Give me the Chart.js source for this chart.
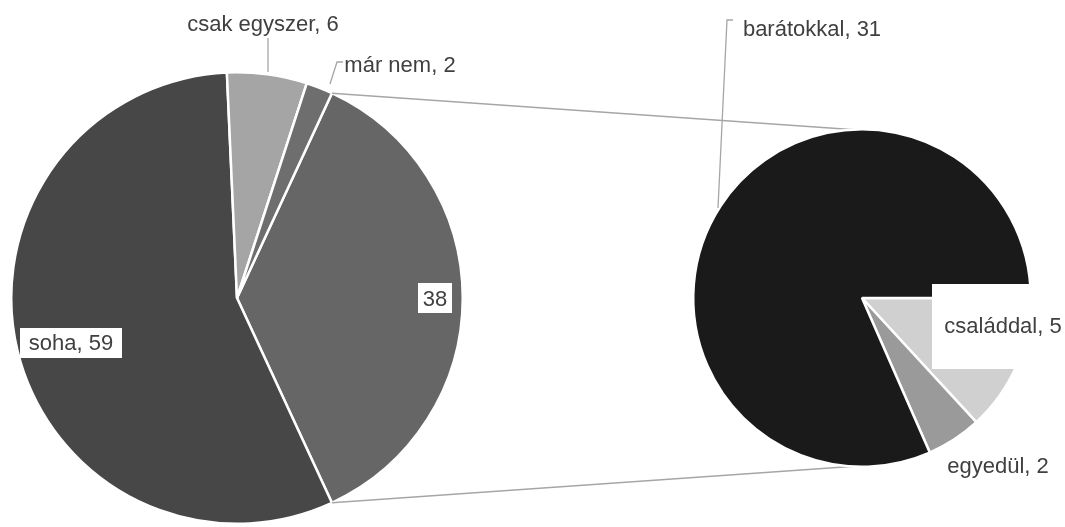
<!DOCTYPE html>
<html>
<head>
<meta charset="utf-8">
<script src="https://cdn.jsdelivr.net/npm/chart.js@4/dist/chart.umd.min.js"></script>
<style>
  html, body { margin: 0; padding: 0; background: #fff; }
  #wrap { position: relative; width: 1065px; height: 527px; }
  #wrap canvas { position: absolute; left: 0; top: 0; }
</style>
</head>
<body>
<div id="wrap">
  <canvas id="mainPie" width="1065" height="527"></canvas>
  <canvas id="subPie" width="1065" height="527"></canvas>
</div>
<script>
// main pie: the "38" slice is the sum of the breakdown pie
const mainLabels = ['', 'soha', 'csak egyszer', 'már nem'];
const mainValues = [38, 59, 6, 2];
const mainColors = ['#666666', '#474747', '#a5a5a5', '#6e6e6e'];

// breakdown pie
const subLabels = ['családdal', 'egyedül', 'barátokkal'];
const subValues = [5, 2, 31];
const subColors = ['#d0d0d0', '#9a9a9a', '#1a1a1a'];

const FONT = '22px "Liberation Sans", Arial, sans-serif';
const TEXT = '#404040';
const LEADER = '#a6a6a6';

// label placement relative to each pie's centre
const mainLabelPos = [
  { dx: 198, dy: 8, box: { dx: 181, dy: -15, w: 34, h: 30 } },
  { dx: -166, dy: 52, box: { dx: -217, dy: 30, w: 102, h: 30 } },
  { dx: 26, dy: -267, leader: [[31, -260], [31, -226]] },
  { dx: 163, dy: -226, leader: [[106, -236], [100, -236], [93, -214]] }
];
const subLabelPos = [
  { dx: 141, dy: 35, box: { dx: 70, dy: -14, w: 140, h: 85 } },
  { dx: 136, dy: 175 },
  { dx: -50, dy: -262, leader: [[-129, -278], [-135, -278], [-144, -90]] }
];

function labelText(names, values, i) {
  return names[i] ? names[i] + ', ' + values[i] : String(values[i]);
}

function labelPlugin(names, values, layout) {
  return {
    id: 'sliceLabels',
    afterDatasetsDraw(chart) {
      const arcs = chart.getDatasetMeta(0).data;
      const cx = arcs[0].x, cy = arcs[0].y;
      const ctx = chart.ctx;
      ctx.save();
      ctx.font = FONT;
      ctx.textAlign = 'center';
      ctx.textBaseline = 'alphabetic';
      layout.forEach((p, i) => {
        if (p.leader) {
          ctx.strokeStyle = LEADER;
          ctx.lineWidth = 1.3;
          ctx.beginPath();
          p.leader.forEach(([x, y], k) => {
            if (k === 0) ctx.moveTo(cx + x, cy + y);
            else ctx.lineTo(cx + x, cy + y);
          });
          ctx.stroke();
        }
        if (p.box) {
          ctx.fillStyle = '#ffffff';
          ctx.fillRect(cx + p.box.dx, cy + p.box.dy, p.box.w, p.box.h);
        }
        ctx.fillStyle = TEXT;
        ctx.fillText(labelText(names, values, i), cx + p.dx, cy + p.dy);
      });
      ctx.restore();
    }
  };
}

const baseOptions = {
  responsive: false,
  animation: false,
  devicePixelRatio: 1,
  plugins: { legend: { display: false }, tooltip: { enabled: false } }
};

const otherShare = mainValues[0] / mainValues.reduce((a, b) => a + b, 0) * 360;

const mainChart = new Chart(document.getElementById('mainPie'), {
  type: 'pie',
  data: {
    labels: mainLabels,
    datasets: [{
      data: mainValues,
      backgroundColor: mainColors,
      borderColor: '#ffffff',
      borderWidth: 2.5
    }]
  },
  options: {
    ...baseOptions,
    rotation: 90 - otherShare / 2,
    layout: { padding: { left: 10, top: 71, right: 601, bottom: 2 } }
  },
  plugins: [labelPlugin(mainLabels, mainValues, mainLabelPos)]
});

// lines joining the "38" slice to the breakdown pie
const connectorPlugin = {
  id: 'connectors',
  beforeDatasetsDraw(chart) {
    const src = mainChart.getDatasetMeta(0).data[0];
    const dst = chart.getDatasetMeta(0).data[0];
    const a0 = src.startAngle, a1 = src.endAngle, r = src.outerRadius;
    const ctx = chart.ctx;
    ctx.save();
    ctx.strokeStyle = LEADER;
    ctx.lineWidth = 1.5;
    ctx.beginPath();
    ctx.moveTo(src.x + r * Math.cos(a0), src.y + r * Math.sin(a0));
    ctx.lineTo(dst.x, dst.y - dst.outerRadius + 1);
    ctx.moveTo(src.x + r * Math.cos(a1), src.y + r * Math.sin(a1));
    ctx.lineTo(dst.x, dst.y + dst.outerRadius - 1);
    ctx.stroke();
    ctx.restore();
  }
};

new Chart(document.getElementById('subPie'), {
  type: 'pie',
  data: {
    labels: subLabels,
    datasets: [{
      data: subValues,
      backgroundColor: subColors,
      borderColor: '#ffffff',
      borderWidth: 2.5
    }]
  },
  options: {
    ...baseOptions,
    rotation: 90,
    layout: { padding: { left: 692, top: 128, right: 33, bottom: 59 } }
  },
  plugins: [connectorPlugin, labelPlugin(subLabels, subValues, subLabelPos)]
});
</script>
</body>
</html>
